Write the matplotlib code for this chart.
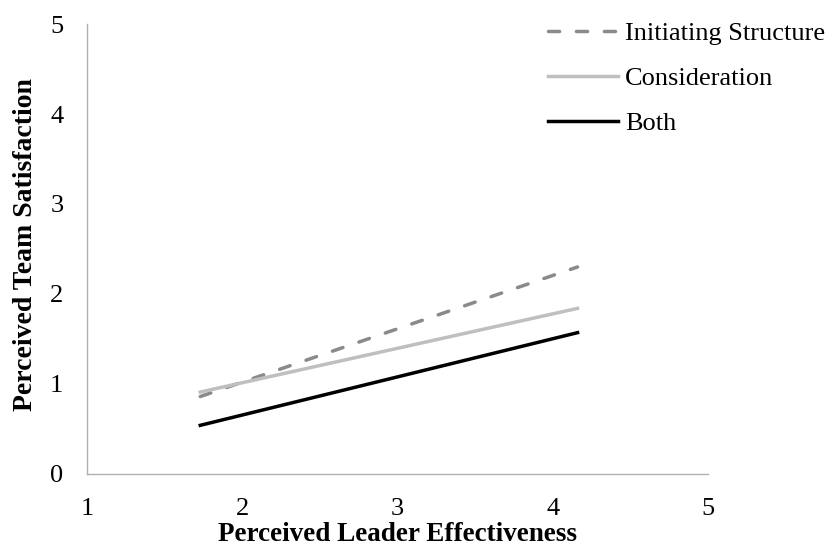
import matplotlib
matplotlib.use("Agg")
import matplotlib.pyplot as plt

plt.rcParams['font.family'] = ['Liberation Serif', 'DejaVu Serif']

# data
x_vals = [1.73, 4.16]
initiating = [0.86, 2.30]
consideration = [0.91, 1.84]
both = [0.54, 1.57]
series_names = ['Initiating Structure', 'Consideration', 'Both']

fig = plt.figure(figsize=(8.28, 5.46), dpi=100)
ax = fig.add_axes([0.105, 0.132, 0.75, 0.824])

ax.plot(x_vals, initiating, color='#8a8a8a', lw=2.5, ls=(0, (3.2, 4.85)),
        dash_capstyle='round', label=series_names[0])
ax.plot(x_vals, consideration, color='#bfbfbf', lw=2.5, label=series_names[1])
ax.plot(x_vals, both, color='black', lw=2.5, label=series_names[2])

ax.set_xlim(1, 5)
ax.set_ylim(0, 5)
ax.set_xticks([1, 2, 3, 4, 5])
ax.set_yticks([0, 1, 2, 3, 4, 5])
ax.tick_params(length=0, labelsize=19)
ax.tick_params(axis='x', pad=17)
ax.tick_params(axis='y', pad=17)

for s in ['top', 'right']:
    ax.spines[s].set_visible(False)
for s in ['left', 'bottom']:
    ax.spines[s].set_color('#b0b0b0')
    ax.spines[s].set_linewidth(1)

ax.set_xlabel('Perceived Leader Effectiveness', fontsize=19.5, fontweight='bold', labelpad=2)
ax.set_ylabel('Perceived Team Satisfaction', fontsize=20, fontweight='bold', labelpad=9)
ax.yaxis.label.set_y(0.51)

ax.legend(loc='upper right', bbox_to_anchor=(1.227, 1.058), frameon=False, fontsize=19,
          handlelength=2.65, handletextpad=0.27, labelspacing=0.82)

fig.savefig('out.png', dpi=100)
